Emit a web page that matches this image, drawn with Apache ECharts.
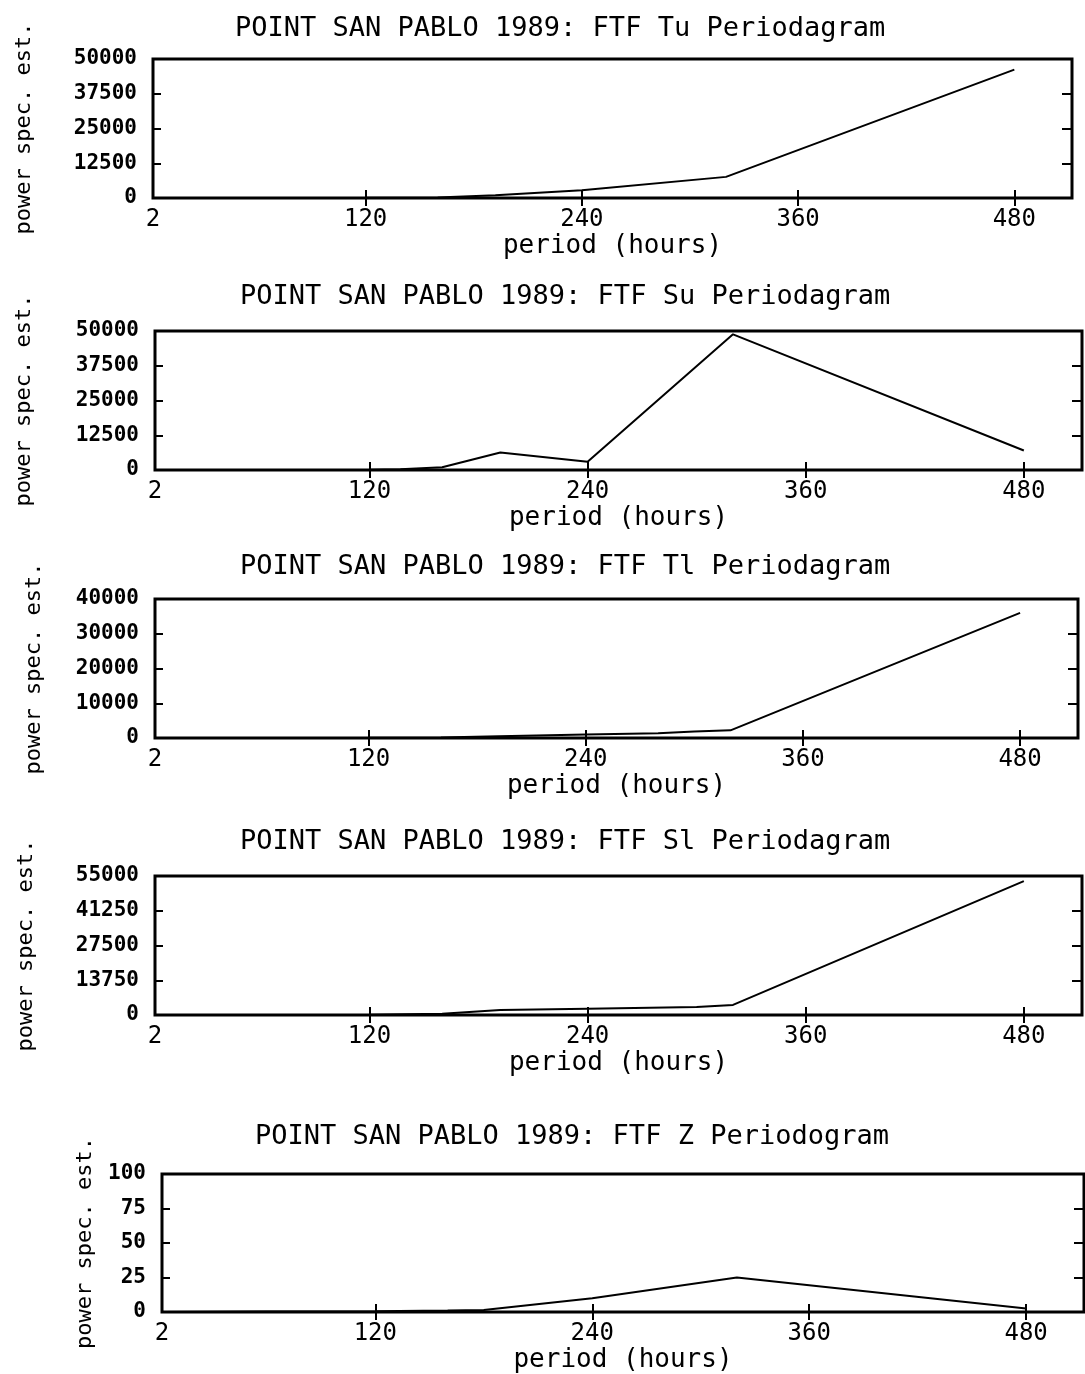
<!DOCTYPE html>
<html>
<head>
<meta charset="utf-8">
<title>POINT SAN PABLO 1989: FTF Periodagrams</title>
<script src="https://cdn.jsdelivr.net/npm/echarts@6/dist/echarts.min.js"></script>
<style>
  html, body { margin: 0; padding: 0; background: #fff; }
  #chart { width: 1085px; height: 1374px; }
</style>
</head>
<body>
<div id="chart"></div>
<script>
// Periodogram estimates (period in hours, power spectral estimate) for each channel
const titles = [
  'POINT SAN PABLO 1989: FTF Tu Periodagram',
  'POINT SAN PABLO 1989: FTF Su Periodagram',
  'POINT SAN PABLO 1989: FTF Tl Periodagram',
  'POINT SAN PABLO 1989: FTF Sl Periodagram',
  'POINT SAN PABLO 1989: FTF Z Periodogram'
];

const periodsTu = [2, 60, 120, 160, 192, 240, 320, 480];
const powerTu   = [0, 0, 50, 200, 1000, 2800, 7600, 46200];

const periodsSu = [2, 60, 120, 137, 160, 192, 240, 320, 480];
const powerSu   = [0, 0, 100, 300, 1000, 6300, 3000, 48800, 7000];

const periodsTl = [2, 60, 120, 160, 192, 240, 280, 300, 320, 480];
const powerTl   = [0, 0, 50, 150, 500, 1000, 1400, 1900, 2200, 36000];

const periodsSl = [2, 60, 120, 160, 192, 240, 300, 320, 480];
const powerSl   = [0, 0, 100, 500, 2000, 2500, 3200, 4000, 53000];

const periodsZ = [2, 60, 120, 160, 180, 240, 320, 480];
const powerZ   = [0, 0.3, 0.6, 1, 1.5, 10, 25, 2.5];

// y-axis ranges (max, step between labelled ticks)
const yMax  = [50000, 50000, 40000, 55000, 100];
const yStep = [12500, 12500, 10000, 13750, 25];

// x-axis: period range and the labelled periods
const xMin = 2;
const xMax = 512;
const xLabelValues = [2, 120, 240, 360, 480];
const xTickValues  = [120, 240, 360, 480];

const seriesPeriods = [periodsTu, periodsSu, periodsTl, periodsSl, periodsZ];
const seriesPower   = [powerTu, powerSu, powerTl, powerSl, powerZ];

// panel placement on the page
const layout = [
  { left: 153, top: 59,   width: 919, height: 139, titleLeft: 235, titleTop: 15,   nameGap: 118 },
  { left: 155, top: 331,  width: 927, height: 139, titleLeft: 240, titleTop: 283,  nameGap: 120 },
  { left: 155, top: 599,  width: 923, height: 139, titleLeft: 240, titleTop: 553,  nameGap: 110 },
  { left: 155, top: 876,  width: 927, height: 139, titleLeft: 240, titleTop: 828,  nameGap: 118 },
  { left: 162, top: 1174, width: 922, height: 138, titleLeft: 255, titleTop: 1123, nameGap: 66 }
];

const MONO = '"DejaVu Sans Mono", "Liberation Mono", monospace';
const INK = '#000';

const title = [], grid = [], xAxis = [], yAxis = [], series = [];

layout.forEach((p, i) => {
  title.push({
    text: titles[i],
    left: p.titleLeft,
    top: p.titleTop,
    padding: 0,
    textStyle: { fontFamily: MONO, fontSize: 27, fontWeight: 'normal', color: INK }
  });

  grid.push({
    left: p.left, top: p.top, width: p.width, height: p.height,
    show: true, borderColor: INK, borderWidth: 3, backgroundColor: 'transparent'
  });

  const interiorY = [yStep[i], yStep[i] * 2, yStep[i] * 3];

  // bottom period axis with labels and name
  xAxis.push({
    type: 'value', gridIndex: i, position: 'bottom', min: xMin, max: xMax,
    axisLine: { show: false },
    splitLine: { show: false },
    axisTick: { show: true, inside: true, length: 8, customValues: xTickValues,
                lineStyle: { color: INK, width: 2 } },
    axisLabel: { show: true, customValues: xLabelValues, margin: 10,
                 fontFamily: MONO, fontSize: 24, color: INK,
                 formatter: v => String(v) },
    name: 'period (hours)', nameLocation: 'middle', nameGap: 33,
    nameTextStyle: { fontFamily: MONO, fontSize: 26, color: INK }
  });
  // top edge ticks
  xAxis.push({
    type: 'value', gridIndex: i, position: 'top', min: xMin, max: xMax,
    axisLine: { show: false }, splitLine: { show: false },
    axisTick: { show: true, inside: true, length: 8, customValues: xTickValues,
                lineStyle: { color: INK, width: 2 } },
    axisLabel: { show: false }
  });

  // left power axis with labels and name
  yAxis.push({
    type: 'value', gridIndex: i, position: 'left', min: 0, max: yMax[i], interval: yStep[i],
    axisLine: { show: false }, splitLine: { show: false },
    axisTick: { show: true, inside: true, length: 8, customValues: interiorY,
                lineStyle: { color: INK, width: 2 } },
    axisLabel: { show: true, margin: 16, fontFamily: MONO, fontSize: 21,
                 fontWeight: 'bold', color: INK, formatter: v => String(v) },
    name: 'power spec. est.', nameLocation: 'middle', nameGap: p.nameGap, nameRotate: 90,
    nameTextStyle: { fontFamily: MONO, fontSize: 22, color: INK }
  });
  // right edge ticks
  yAxis.push({
    type: 'value', gridIndex: i, position: 'right', min: 0, max: yMax[i], interval: yStep[i],
    axisLine: { show: false }, splitLine: { show: false },
    axisTick: { show: true, inside: true, length: 10, customValues: interiorY,
                lineStyle: { color: INK, width: 2 } },
    axisLabel: { show: false }
  });

  series.push({
    type: 'line',
    xAxisIndex: i * 2,
    yAxisIndex: i * 2,
    data: seriesPeriods[i].map((t, k) => [t, seriesPower[i][k]]),
    symbol: 'none',
    lineStyle: { color: INK, width: 2 },
    silent: true
  });
});

const chart = echarts.init(document.getElementById('chart'), null, { renderer: 'canvas' });
chart.setOption({
  backgroundColor: '#fff',
  animation: false,
  title, grid, xAxis, yAxis, series
});
</script>
</body>
</html>
